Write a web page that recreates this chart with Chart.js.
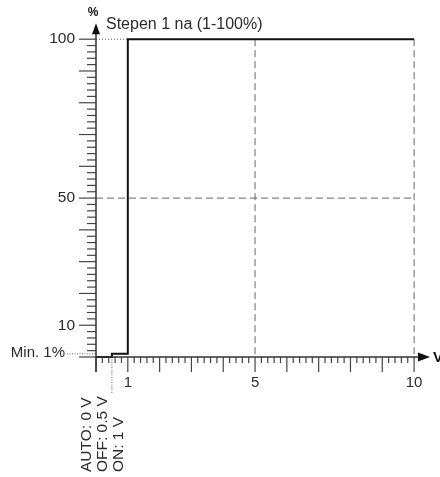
<!DOCTYPE html>
<html>
<head>
<meta charset="utf-8">
<script src="https://cdn.jsdelivr.net/npm/chart.js@4/dist/chart.umd.min.js"></script>
<style>
  html, body { margin: 0; padding: 0; background: #fff; }
  #wrap { width: 440px; height: 477px; position: relative; }
</style>
</head>
<body>
<div id="wrap"><canvas id="stepChart"></canvas></div>
<script>
// 데이터
const stepVolts = [0, 0.5, 1, 10];
const stepPercent = [0, 1, 100, 100];
const xTickLabels = [1, 5, 10];
const yTickLabels = [10, 50, 100];
const gridVolts = [5, 10];
const gridPercents = [50];
const minLevel = 1;
const modeVolts = [0, 0.5, 1];
const modeLabels = ['AUTO: 0 V', 'OFF: 0.5 V', 'ON: 1 V'];
const chartTitle = 'Stepen 1 na (1-100%)';
const yAxisEnd = 105; // 화살표 끝

const FONT = 'Arial, "Liberation Sans", Helvetica, sans-serif';
const INK = '#2b2b2b';

// 눈금 만들기
function rangeTicks(from, to, step) {
  const out = [];
  for (let i = 0; from + i * step <= to + 1e-9; i++) {
    out.push({ value: Math.round((from + i * step) * 100) / 100 });
  }
  return out;
}

function line(ctx, x1, y1, x2, y2, color, width, dash) {
  ctx.save();
  ctx.strokeStyle = color;
  ctx.lineWidth = width;
  ctx.setLineDash(dash || []);
  ctx.beginPath();
  ctx.moveTo(x1, y1);
  ctx.lineTo(x2, y2);
  ctx.stroke();
  ctx.restore();
}

// 격자선 (데이터 아래)
const guidePlugin = {
  id: 'guides',
  beforeDatasetsDraw(chart) {
    const { ctx } = chart;
    const xs = chart.scales.x;
    const ys = chart.scales.y;
    gridVolts.forEach((v) => {
      const px = xs.getPixelForValue(v);
      line(ctx, px, ys.getPixelForValue(100), px, ys.getPixelForValue(0), '#666', 1, [7, 4]);
    });
    gridPercents.forEach((p) => {
      const py = ys.getPixelForValue(p);
      line(ctx, xs.getPixelForValue(0), py, xs.getPixelForValue(10), py, '#666', 1, [7, 4]);
    });
    // 점선
    const y100 = ys.getPixelForValue(100);
    line(ctx, xs.getPixelForValue(0), y100, xs.getPixelForValue(1), y100, '#555', 1, [1, 2]);
    const yMin = ys.getPixelForValue(minLevel);
    line(ctx, 67, yMin, xs.getPixelForValue(0), yMin, '#666', 1, [1, 1.5]);
    const xOff = xs.getPixelForValue(0.5);
    line(ctx, xOff, ys.getPixelForValue(0), xOff, 394, '#666', 1, [1, 1.5]);
  }
};

// 축, 화살표, 텍스트
const axesPlugin = {
  id: 'axes',
  afterDraw(chart) {
    const { ctx, chartArea } = chart;
    const xs = chart.scales.x;
    const ys = chart.scales.y;
    const x0 = xs.getPixelForValue(0);
    const y0 = ys.getPixelForValue(0);
    const yTop = ys.getPixelForValue(yAxisEnd);

    // y 눈금
    ys.ticks.forEach((t) => {
      const py = ys.getPixelForValue(t.value);
      const len = t.value % 10 === 0 ? 17 : 9;
      line(ctx, x0 - len, py, x0, py, '#444', 1.2);
    });
    // x 눈금
    xs.ticks.forEach((t) => {
      const px = xs.getPixelForValue(t.value);
      const len = Number.isInteger(t.value) ? 15 : 6;
      line(ctx, px, y0, px, y0 + len, '#444', 1.2);
    });

    // 축선
    line(ctx, x0, y0 + 15, x0, yTop + 10, '#333', 1.5);
    line(ctx, x0, y0, chartArea.right - 11, y0, '#333', 1.5);

    ctx.save();
    ctx.fillStyle = '#111';
    ctx.beginPath();
    ctx.moveTo(x0, yTop);
    ctx.lineTo(x0 - 4, yTop + 11);
    ctx.lineTo(x0 + 4, yTop + 11);
    ctx.closePath();
    ctx.fill();
    ctx.beginPath();
    ctx.moveTo(chartArea.right, y0);
    ctx.lineTo(chartArea.right - 12, y0 - 4.5);
    ctx.lineTo(chartArea.right - 12, y0 + 4.5);
    ctx.closePath();
    ctx.fill();
    ctx.restore();

    ctx.save();
    ctx.fillStyle = INK;
    ctx.textBaseline = 'middle';
    ctx.font = '16px ' + FONT;
    ctx.textAlign = 'left';
    ctx.fillText(chartTitle, 106, 25);
    ctx.font = '15px ' + FONT;
    ctx.textAlign = 'right';
    ctx.fillText('Min. ' + minLevel + '%', 65, ys.getPixelForValue(minLevel) - 1);
    ctx.fillStyle = '#111';
    ctx.font = 'bold 12px ' + FONT;
    ctx.textAlign = 'center';
    ctx.fillText('%', x0 - 3, 13);
    ctx.font = 'bold 15px ' + FONT;
    ctx.textAlign = 'left';
    ctx.fillText('V', chartArea.right + 3, y0 + 1);

    // 세로 라벨
    ctx.fillStyle = INK;
    ctx.font = '15.5px ' + FONT;
    modeLabels.forEach((label, i) => {
      const px = xs.getPixelForValue(modeVolts[i]) - 9.5;
      ctx.save();
      ctx.translate(px, 472);
      ctx.rotate(-Math.PI / 2);
      ctx.textAlign = 'left';
      ctx.fillText(label, 0, 0);
      ctx.restore();
    });
    ctx.restore();
  }
};

const chart = new Chart(document.getElementById('stepChart'), {
  type: 'line',
  data: {
    datasets: [
      {
        data: stepVolts.map((v, i) => ({ x: v, y: stepPercent[i] })),
        stepped: 'before',
        borderColor: '#111',
        borderWidth: 2,
        pointRadius: 0,
        fill: false,
        clip: 6
      }
    ]
  },
  options: {
    responsive: true,
    maintainAspectRatio: false,
    animation: false,
    layout: { padding: { top: 16, right: 10, left: 0, bottom: 0 } },
    plugins: {
      legend: { display: false },
      tooltip: { enabled: false }
    },
    scales: {
      x: {
        type: 'linear',
        min: 0,
        max: 10.5,
        afterBuildTicks: (scale) => { scale.ticks = rangeTicks(0, 10, 0.2); },
        afterFit: (scale) => { scale.height = 120; },
        grid: { display: false, drawTicks: false },
        border: { display: false },
        ticks: {
          autoSkip: false,
          maxRotation: 0,
          padding: 17,
          color: INK,
          font: { family: FONT, size: 15 },
          callback: (v) => (xTickLabels.includes(v) ? String(v) : '')
        }
      },
      y: {
        type: 'linear',
        min: 0,
        max: 102.8,
        afterBuildTicks: (scale) => { scale.ticks = rangeTicks(0, 100, 2); },
        afterFit: (scale) => { scale.width = 96; },
        grid: { display: false, drawTicks: false },
        border: { display: false },
        ticks: {
          autoSkip: false,
          padding: 21,
          color: INK,
          font: { family: FONT, size: 15.5 },
          callback: (v) => (yTickLabels.includes(v) ? String(v) : '')
        }
      }
    }
  },
  plugins: [guidePlugin, axesPlugin]
});
</script>
</body>
</html>
